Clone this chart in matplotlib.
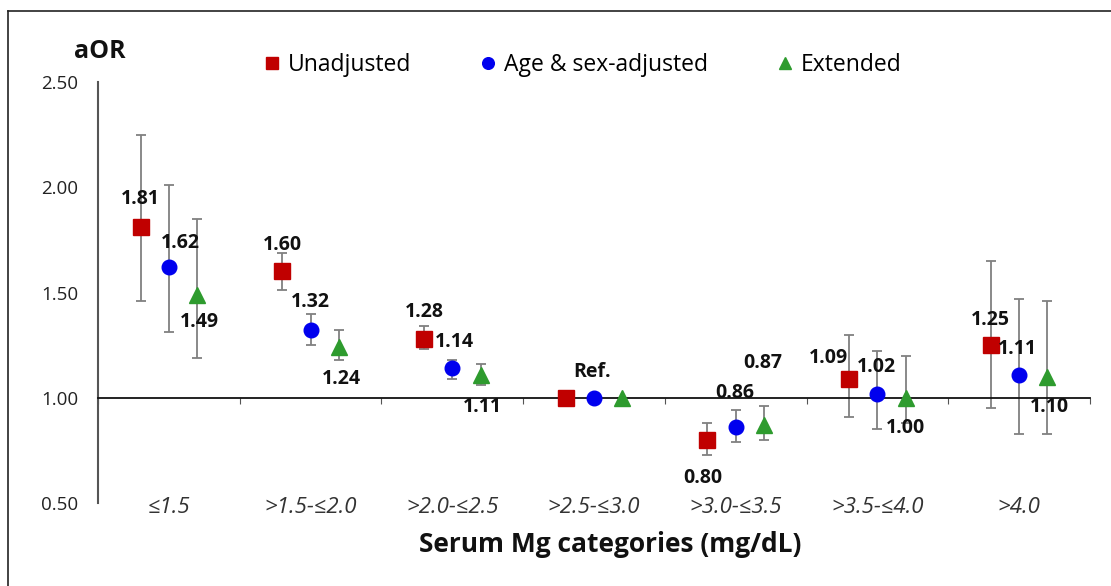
import matplotlib.pyplot as plt
import matplotlib
from matplotlib.lines import Line2D
import numpy as np

matplotlib.rcParams['font.family'] = ['Open Sans', 'DejaVu Sans']

categories = ['≤1.5', '>1.5-≤2.0', '>2.0-≤2.5', '>2.5-≤3.0', '>3.0-≤3.5', '>3.5-≤4.0', '>4.0']
series_names = ['Unadjusted', 'Age & sex-adjusted', 'Extended']

unadj = [1.81, 1.60, 1.28, 1.00, 0.80, 1.09, 1.25]
unadj_lo = [1.46, 1.51, 1.23, 1.00, 0.73, 0.91, 0.95]
unadj_hi = [2.25, 1.69, 1.34, 1.00, 0.88, 1.30, 1.65]

agesex = [1.62, 1.32, 1.14, 1.00, 0.86, 1.02, 1.11]
agesex_lo = [1.31, 1.25, 1.09, 1.00, 0.79, 0.85, 0.83]
agesex_hi = [2.01, 1.40, 1.18, 1.00, 0.94, 1.22, 1.47]

ext = [1.49, 1.24, 1.11, 1.00, 0.87, 1.00, 1.10]
ext_lo = [1.19, 1.18, 1.06, 1.00, 0.80, 0.88, 0.83]
ext_hi = [1.85, 1.32, 1.16, 1.00, 0.96, 1.20, 1.46]

ref_index = 3

# label offsets in pixels (dx, dy) for each series / category
unadj_off = [(0, 28), (0, 26), (0, 27), None, (-5, -38), (-21, 21), (0, 25)]
agesex_off = [(12, 24), (0, 28), (2, 26), (-2, 26), (-1, 34), (-1, 27), (-2, 26)]
ext_off = [(2, -27), (2, -32), (2, -32), None, (-1, 62), (0, -30), (2, -30)]

fig = plt.figure(figsize=(11.11, 5.86), dpi=100)
ax = fig.add_axes([98 / 1111, 1 - 503 / 586, (1090 - 98) / 1111, (503 - 82) / 586])

x = np.arange(len(categories))
shift = 0.2
styles = [('s', '#C00000'), ('o', '#0000EE'), ('^', '#2E9B2E')]
all_series = [(unadj, unadj_lo, unadj_hi, unadj_off),
              (agesex, agesex_lo, agesex_hi, agesex_off),
              (ext, ext_lo, ext_hi, ext_off)]

for k, (vals, lo, hi, offs) in enumerate(all_series):
    xs = x + (k - 1) * shift
    vals = np.array(vals)
    yerr = [vals - np.array(lo), np.array(hi) - vals]
    ax.errorbar(xs, vals, yerr=yerr, fmt='none', ecolor='#808080', elinewidth=1.3,
                capsize=3.5, capthick=1.3, zorder=2)
    m, c = styles[k]
    ax.plot(xs, vals, linestyle='none', marker=m, color=c, markersize=11 if m != 'o' else 10.5,
            zorder=3, label=series_names[k])
    for i, v in enumerate(vals):
        if offs[i] is None:
            continue
        txt = 'Ref.' if i == ref_index else '%.2f' % v
        ax.annotate(txt, (xs[i], v), xytext=offs[i], textcoords='offset pixels',
                    ha='center', va='center', fontsize=14, fontweight='bold', color='#111111')

ax.set_xlim(-0.5, len(categories) - 0.5)
ax.set_ylim(0.5, 2.5)
ax.set_yticks([0.5, 1.0, 1.5, 2.0, 2.5])
ax.set_yticklabels(['%.2f' % t for t in [0.5, 1.0, 1.5, 2.0, 2.5]])
ax.tick_params(axis='y', length=0, pad=14, labelsize=13.5, labelcolor='#222222')

ax.spines['top'].set_visible(False)
ax.spines['right'].set_visible(False)
ax.spines['left'].set_color('#555555')
ax.spines['left'].set_linewidth(1.5)
ax.spines['bottom'].set_position(('data', 1.0))
ax.spines['bottom'].set_color('#111111')
ax.spines['bottom'].set_linewidth(1.3)
ax.set_xticks(np.arange(len(categories) + 1) - 0.5)
ax.set_xticklabels([])
ax.tick_params(axis='x', direction='out', length=4, color='#555555')

for i, cat in enumerate(categories):
    ax.text(i, -0.01, cat, transform=ax.get_xaxis_transform(), ha='center', va='center',
            fontsize=16, style='italic', color='#333333')

fig.text(610 / 1111, 1 - 545 / 586, 'Serum Mg categories (mg/dL)', ha='center', va='center',
         fontsize=19, fontweight='bold', color='#111111')
fig.text(100 / 1111, 1 - 52 / 586, 'aOR', ha='center', va='center',
         fontsize=18, fontweight='bold', color='#111111')

leg = fig.legend(loc='center', bbox_to_anchor=(582 / 1111, 1 - 65 / 586), ncol=3, frameon=False,
                 fontsize=16.5, handlelength=0.8, handletextpad=0.3, columnspacing=2.95,
                 markerscale=0.8)

# figure frame (left and top edges)
fig.add_artist(Line2D([8 / 1111, 8 / 1111], [0, 1 - 11 / 586], transform=fig.transFigure,
                      color='#222222', linewidth=1.2))
fig.add_artist(Line2D([8 / 1111, 1], [1 - 11 / 586, 1 - 11 / 586], transform=fig.transFigure,
                      color='#222222', linewidth=1.2))

plt.savefig('out.png', dpi=100)
